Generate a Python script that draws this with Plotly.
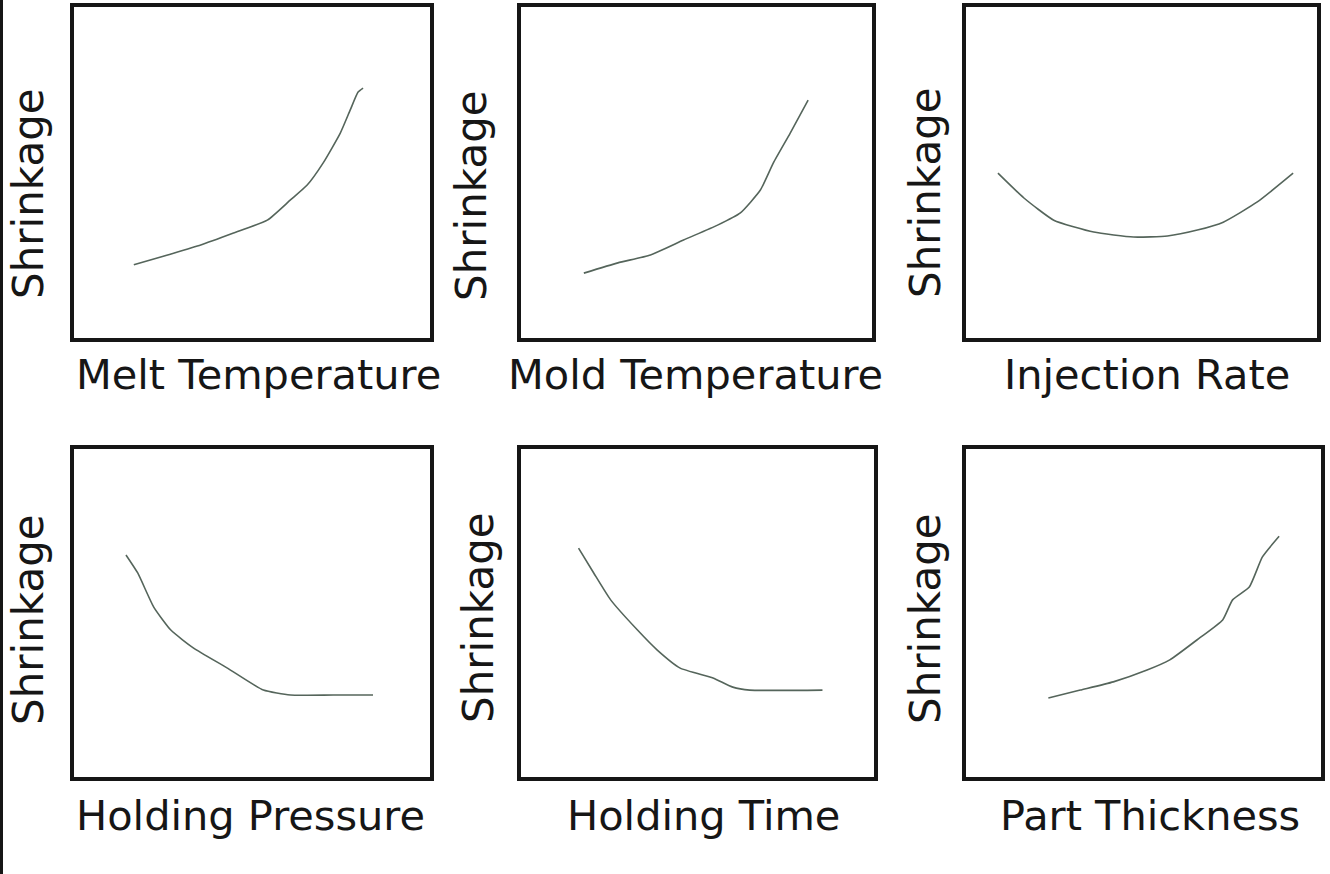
import plotly.graph_objects as go

# ---- data (arbitrary units, 0-100 on both axes) ----
x_titles = ["Melt Temperature", "Mold Temperature", "Injection Rate",
            "Holding Pressure", "Holding Time", "Part Thickness"]
y_title = "Shrinkage"

melt_x = [16.8, 26.3, 35.6, 44.8, 54.3, 60.8, 65.5, 70.0, 74.8, 77.6, 79.8, 81.2]
melt_y = [22.1, 25.1, 28.1, 31.7, 35.6, 41.7, 46.2, 52.9, 61.9, 68.9, 74.3, 75.5]

mold_x = [17.9, 27.6, 36.9, 46.3, 56.0, 62.5, 68.2, 71.9, 76.7, 81.8]
mold_y = [19.6, 22.7, 25.1, 29.6, 34.1, 37.8, 44.7, 52.9, 61.9, 71.9]

inj_x = [9.1, 16.5, 25.0, 36.4, 47.7, 57.4, 65.9, 73.3, 83.0, 93.2]
inj_y = [49.8, 42.3, 35.6, 32.0, 30.5, 30.8, 32.6, 35.0, 41.1, 49.8]

hp_x = [14.6, 17.9, 22.4, 27.2, 33.6, 43.1, 53.2, 60.8, 72.8, 84.0]
hp_y = [67.7, 62.2, 51.8, 44.8, 39.3, 33.2, 26.5, 25.0, 25.0, 25.0]

ht_x = [16.3, 20.6, 25.4, 33.0, 38.6, 45.1, 54.4, 60.0, 64.8, 85.4]
ht_y = [69.8, 62.2, 54.0, 44.8, 38.7, 33.2, 30.2, 27.4, 26.5, 26.5]

pt_x = [23.2, 32.2, 41.5, 51.0, 57.4, 65.8, 72.3, 75.1, 79.8, 83.5, 88.2]
pt_y = [24.1, 26.5, 29.0, 32.6, 35.7, 42.4, 47.9, 54.0, 57.9, 67.1, 73.4]

series = [(melt_x, melt_y), (mold_x, mold_y), (inj_x, inj_y),
          (hp_x, hp_y), (ht_x, ht_y), (pt_x, pt_y)]

# ---- layout geometry (pixels) ----
W, H = 1330, 874
boxes = [  # left, right, top, bottom
    (74, 430, 7, 338), (521, 872, 7, 338), (966, 1317, 7, 338),
    (74, 430, 449, 777), (521, 874, 449, 777), (966, 1321, 449, 777),
]
xt_pos = [(258, 374), (695, 374), (1147, 374), (250, 815), (703, 815), (1150, 815)]
yt_pos = [(28, 194), (472, 196), (925, 193), (28, 620), (478, 618), (925, 619)]

LINE = "#55655b"
INK = "#161616"
FONT = "DejaVu Sans"

fig = go.Figure()
layout = dict(width=W, height=H, margin=dict(l=0, r=0, t=0, b=0),
              paper_bgcolor="white", plot_bgcolor="white", showlegend=False)
annotations = []
for i, ((xs, ys), (l, r, t, b)) in enumerate(zip(series, boxes)):
    n = "" if i == 0 else str(i + 1)
    fig.add_trace(go.Scatter(x=xs, y=ys, mode="lines", xaxis="x" + n, yaxis="y" + n,
                             line=dict(color=LINE, width=1.6, shape="spline",
                                       smoothing=0.5),
                             hoverinfo="skip"))
    ax = dict(range=[0, 100], showgrid=False, zeroline=False, showticklabels=False,
              ticks="", showline=True, mirror=True, linewidth=3.5, linecolor=INK,
              fixedrange=True)
    layout["xaxis" + n] = dict(ax, domain=[l / W, r / W], anchor="y" + n)
    layout["yaxis" + n] = dict(ax, domain=[1 - b / H, 1 - t / H], anchor="x" + n)
    xx, yy = xt_pos[i]
    annotations.append(dict(text=x_titles[i], x=xx / W, y=1 - yy / H, xref="paper",
                            yref="paper", showarrow=False, xanchor="center",
                            yanchor="middle",
                            font=dict(family=FONT, size=41.5, color=INK)))
    xx, yy = yt_pos[i]
    annotations.append(dict(text=y_title, x=xx / W, y=1 - yy / H, xref="paper",
                            yref="paper", showarrow=False, xanchor="center",
                            yanchor="middle", textangle=-90,
                            font=dict(family=FONT, size=42, color=INK)))
layout["annotations"] = annotations
layout["shapes"] = [dict(type="line", xref="paper", yref="paper", x0=1.5 / W, x1=1.5 / W,
                         y0=0, y1=1, line=dict(color=INK, width=3))]
fig.update_layout(**layout)
fig.write_html("out.html", config={"displayModeBar": False},
               post_script="document.body.style.margin='0';document.body.style.overflow='hidden';")
